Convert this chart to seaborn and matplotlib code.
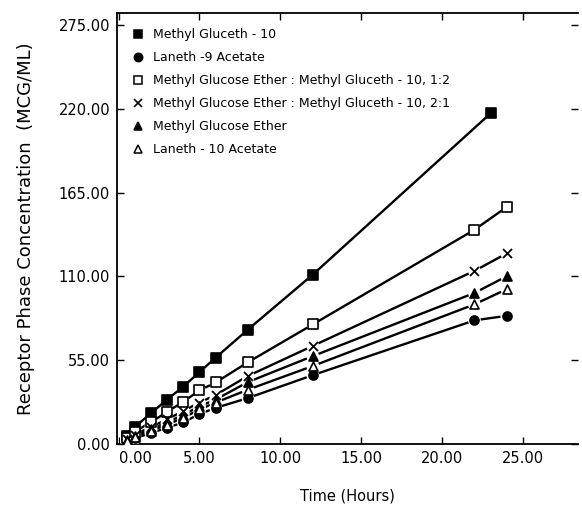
import matplotlib
matplotlib.use("Agg")
import matplotlib.pyplot as plt
from matplotlib.lines import Line2D
import seaborn as sns
import pandas as pd

# Sampling times (hours)
hours = [0.5, 1, 2, 3, 4, 5, 6, 8, 12, 22, 24]
gluceth_hours = [0.5, 1, 2, 3, 4, 5, 6, 8, 12, 23]

# Receptor phase concentration (MCG/ML)
methyl_gluceth_10 = [5, 11, 20, 29, 37.5, 47, 56.5, 75, 111, 217]
laneth_9_acetate = [1.5, 3.5, 7, 10.5, 14, 19.5, 23.5, 30, 45, 81, 84]
mge_gluceth_1_2 = [4, 8, 14, 21, 27.5, 35, 40.2, 53.5, 78.3, 140.5, 155.5]
mge_gluceth_2_1 = [3, 6, 11, 16, 21.5, 27, 32, 44.5, 64.2, 113.5, 125]
methyl_glucose_ether = [2.5, 5, 9.5, 14, 19, 24.5, 29, 40.5, 57.5, 99, 110]
laneth_10_acetate = [2, 4.5, 8.5, 12.5, 17, 22.5, 27, 35.5, 51, 91.5, 101.5]

labels = [
    "Methyl Gluceth - 10",
    "Laneth -9 Acetate",
    "Methyl Glucose Ether : Methyl Gluceth - 10, 1:2",
    "Methyl Glucose Ether : Methyl Gluceth - 10, 2:1",
    "Methyl Glucose Ether",
    "Laneth - 10 Acetate",
]
series = [
    (gluceth_hours, methyl_gluceth_10, "s", "black"),
    (hours, laneth_9_acetate, "o", "black"),
    (hours, mge_gluceth_1_2, "s", "white"),
    (hours, mge_gluceth_2_1, "x", "black"),
    (hours, methyl_glucose_ether, "^", "black"),
    (hours, laneth_10_acetate, "^", "white"),
]

x_ticks = [0, 5, 10, 15, 20, 25]
y_ticks = [0, 55, 110, 165, 220, 275]

sns.set_theme(style="ticks")
plt.rcParams["font.family"] = ["DejaVu Sans"]
plt.rcParams["text.color"] = "black"
plt.rcParams["axes.labelcolor"] = "black"
plt.rcParams["xtick.color"] = "black"
plt.rcParams["ytick.color"] = "black"

fig = plt.figure(figsize=(5.82, 5.15), dpi=100)
ax = fig.add_axes([0.201, 0.137, 0.792, 0.838])

frames = []
for (t, v, m, fc), lab in zip(series, labels):
    frames.append(pd.DataFrame({"hours": t, "conc": v, "series": lab}))
df = pd.concat(frames, ignore_index=True)

# Connecting lines
for lab in labels:
    sub = df[df["series"] == lab]
    sns.lineplot(data=sub, x="hours", y="conc", ax=ax, color="black",
                 lw=1.7, zorder=2, sort=False, legend=False)

# White halos break the lines around each marker
for lab in labels:
    sub = df[df["series"] == lab]
    sns.scatterplot(data=sub, x="hours", y="conc", ax=ax, marker="o",
                    s=85, color="white", edgecolor="none", zorder=3,
                    legend=False)

# Markers
for (t, v, m, fc), lab in zip(series, labels):
    sub = df[df["series"] == lab]
    if m == "x":
        sns.scatterplot(data=sub, x="hours", y="conc", ax=ax, marker="x",
                        s=42, color="black", linewidth=1.3, zorder=4,
                        legend=False)
    else:
        sns.scatterplot(data=sub, x="hours", y="conc", ax=ax, marker=m,
                        s=42, facecolor=fc, edgecolor="black",
                        linewidth=1.2, zorder=4, legend=False)

ax.set_xlim(-0.1, 28.4)
ax.set_ylim(-0.5, 283)
ax.set_xticks(x_ticks)
ax.set_yticks(y_ticks)
ax.set_xticklabels([f"{v:.2f}" for v in x_ticks], fontsize=10.5)
ax.set_yticklabels([f"{v:.2f}" for v in y_ticks], fontsize=10.5)
ax.get_xticklabels()[0].set_horizontalalignment("left")

ax.tick_params(direction="in", length=5, width=1, top=True, right=True,
               colors="black", pad=5)
for side in ["left", "bottom", "top"]:
    ax.spines[side].set_visible(True)
    ax.spines[side].set_color("black")
    ax.spines[side].set_linewidth(1.3)
ax.spines["right"].set_visible(False)

ax.set_xlabel("Time (Hours)", fontsize=10.5, labelpad=16, color="black")
ax.set_ylabel("Receptor Phase Concentration  (MCG/ML)", fontsize=13,
              color="black")
ax.yaxis.set_label_coords(-0.178, 0.5)

handles = []
for (t, v, m, fc), lab in zip(series, labels):
    if m == "x":
        h = Line2D([], [], ls="none", marker="x", color="black",
                   markersize=6, markeredgewidth=1.2)
    else:
        h = Line2D([], [], ls="none", marker=m, markerfacecolor=fc,
                   markeredgecolor="black", markersize=6,
                   markeredgewidth=1.1)
    handles.append(h)
leg = ax.legend(handles, labels, loc="upper left", frameon=False, fontsize=9,
                handlelength=0.8, handletextpad=0.8, labelspacing=0.8,
                borderaxespad=0.3, bbox_to_anchor=(0.015, 0.985))
for txt in leg.get_texts():
    txt.set_color("black")

fig.savefig("out.png", dpi=100, facecolor="white")
